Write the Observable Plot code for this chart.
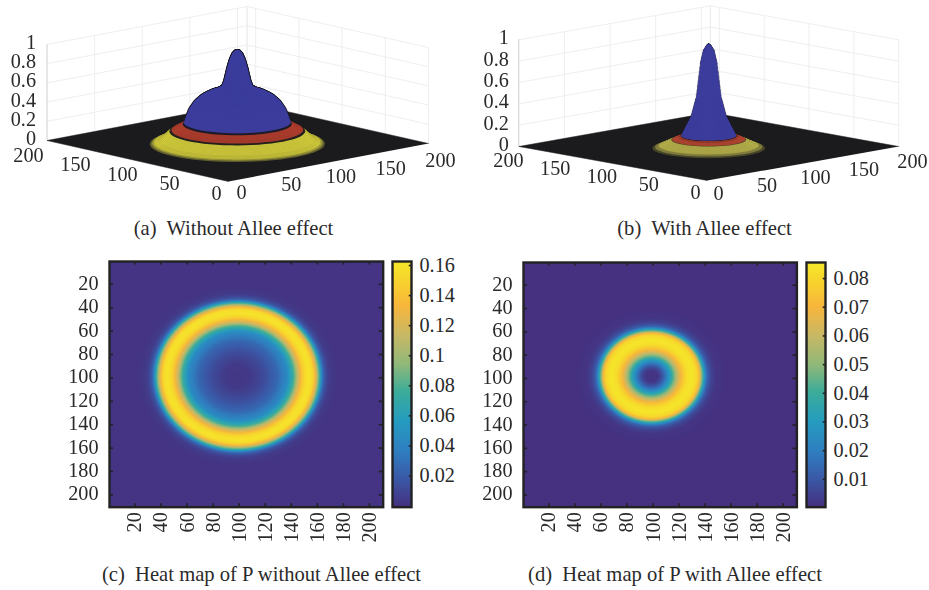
<!DOCTYPE html>
<html>
<head>
<meta charset="utf-8">
<script src="https://cdn.jsdelivr.net/npm/d3@7"></script>
<script src="https://cdn.jsdelivr.net/npm/@observablehq/plot@0.6"></script>
<style>
  html, body { margin: 0; background: #fff; }
  #page { position: relative; width: 929px; height: 590px; overflow: hidden; background: #fff; font-family: "Liberation Serif", serif; color: #2a2a2a; }
  #page svg { position: absolute; max-width: none; background: transparent; overflow: visible; }
  .cap { position: absolute; font-size: 20.6px; white-space: pre; transform: translateX(-50%); line-height: 1; }
</style>
</head>
<body>
<div id="page"></div>
<script>
// ---------- values ----------
const gridTicks3d = [50, 100, 150, 200];
const floorTicks = [0, 50, 100, 150, 200];
const heightTicks = [0, 0.2, 0.4, 0.6, 0.8, 1];
const heatTicks = [20, 40, 60, 80, 100, 120, 140, 160, 180, 200];

// surface height against distance from the centre
const surfaceRadiiA = [0, 2, 4, 6, 8, 10.5, 12, 16, 22, 29, 34, 38, 41, 42, 47, 52, 60, 68];
const surfaceValuesA = [0.98, 0.97, 0.94, 0.88, 0.79, 0.65, 0.6, 0.565, 0.54, 0.49, 0.43, 0.35, 0.25, 0.21, 0.17, 0.14, 0.045, 0];
const surfaceRadiiB = [0, 2, 4.5, 6.8, 10, 14, 21.5, 29, 36, 44];
const surfaceValuesB = [0.98, 0.96, 0.91, 0.79, 0.47, 0.29, 0.115, 0.08, 0.04, 0];
const ringNames = ["cap", "seamIn", "ring", "seamOut", "skirt", "fade", "edge"];
const ringEdgesA = [42, 42.8, 52, 53.2, 65, 66.5, 68];
const ringEdgesB = [21.5, 22, 29, 29.8, 39.5, 42, 44];
const ringColorsA = ["#3b3c9c", "#1d1b28", "#b8402f", "#26231e", "#d6d03c", "#a8a43a", "#6a6830"];
const ringColorsB = ["#3c3c9c", "#3a2030", "#b84834", "#5a4a28", "#b9b34c", "#8a8640", "#4b4a2c"];

// heat map value against distance from the centre
const heatRadiiC = [0, 10, 20, 30, 38, 43, 46, 47, 49, 51, 54, 57, 59, 61, 63, 65, 67, 70, 74, 80, 150];
const heatValuesC = [0.002, 0.004, 0.012, 0.025, 0.045, 0.08, 0.115, 0.122, 0.14, 0.152, 0.16, 0.155, 0.135, 0.105, 0.065, 0.03, 0.014, 0.005, 0.002, 0.001, 0.001];
const heatRadiiD = [0, 5, 8, 11, 14, 17, 20, 23, 27, 31, 35, 37, 39, 41, 43, 46, 50, 60, 150];
const heatValuesD = [0.001, 0.002, 0.008, 0.018, 0.03, 0.045, 0.06, 0.072, 0.082, 0.085, 0.08, 0.07, 0.045, 0.025, 0.012, 0.005, 0.0015, 0.0005, 0.0005];
const barTicksC = [0.02, 0.04, 0.06, 0.08, 0.1, 0.12, 0.14, 0.16];
const barTicksD = [0.01, 0.02, 0.03, 0.04, 0.05, 0.06, 0.07, 0.08];
const barDomainC = [-0.0008, 0.1627];
const barDomainD = [0.0003, 0.0856];

const rampStops = [0, 0.12, 0.23, 0.35, 0.47, 0.58, 0.7, 0.82, 0.93, 1];
const rampColors = ["#45307f", "#3a5aa8", "#2f7fc0", "#259cc0", "#3cac9a", "#8fb87a", "#c8b866", "#f7b63c", "#f7d62c", "#f5e82a"];

// ---------- page layout ----------
const page = document.getElementById("page");
const INK = "#2a2a2a";
const FONT = { fontFamily: "'Liberation Serif', serif", fontSize: "20.2px", background: "transparent", color: INK };
function place(svg, left, top) { svg.style.left = left + "px"; svg.style.top = top + "px"; page.appendChild(svg); }
function caption(text, cx, y) {
  const d = document.createElement("div");
  d.className = "cap"; d.textContent = text; d.style.left = cx + "px"; d.style.top = y + "px";
  page.appendChild(d);
}

// ---------- 3D panels ----------
const AXIS_MAX = 210;
const CENTRE = 100;
function surfacePanel(o) {
  const du = [(o.L[0] - o.F[0]) / AXIS_MAX, (o.L[1] - o.F[1]) / AXIS_MAX];
  const dv = [(o.R[0] - o.F[0]) / AXIS_MAX, (o.R[1] - o.F[1]) / AXIS_MAX];
  const px = (u, v) => o.F[0] + u * du[0] + v * dv[0];
  const py = (u, v, z = 0) => o.F[1] + u * du[1] + v * dv[1] - z * o.zUnit;
  const height = d3.scaleLinear().domain(o.radii).range(o.values).clamp(true);
  const maxR = o.edges[o.edges.length - 1];

  // one closed contour per radius, painted from the rim inwards
  const contour = [];
  const angles = d3.range(0, 360, 6).map(a => a * Math.PI / 180);
  for (let r = maxR; r > 0; r -= (r < o.fineBelow ? 0.12 : o.radialStep)) {
    const idx = o.edges.findIndex(e => r <= e);
    const band = ringNames[idx];
    for (const a of angles) {
      contour.push({ r, band, u: CENTRE + r * Math.cos(a), v: CENTRE + r * Math.sin(a), z: height(r) });
    }
  }
  const outer = contour.filter(d => d.band !== ringNames[0]);
  const inner = contour.filter(d => d.band === ringNames[0]);
  const X = d => px(d.u, d.v), Y = d => py(d.u, d.v, d.z);

  const segs = [];
  for (const z of heightTicks.slice(1)) {
    segs.push([AXIS_MAX, 0, z, AXIS_MAX, AXIS_MAX, z], [AXIS_MAX, AXIS_MAX, z, 0, AXIS_MAX, z]);
  }
  for (const t of gridTicks3d.concat([AXIS_MAX])) {
    segs.push([AXIS_MAX, t, 0, AXIS_MAX, t, 1], [t, AXIS_MAX, 0, t, AXIS_MAX, 1]);
  }
  segs.push([0, AXIS_MAX, 0, 0, AXIS_MAX, 1]);
  const floor = [[0, 0], [AXIS_MAX, 0], [AXIS_MAX, AXIS_MAX], [0, AXIS_MAX]];
  const lerp = (a, b, t) => a + (b - a) * t / 200;

  const svg = Plot.plot({
    width: o.w, height: o.h, margin: 0,
    style: { ...FONT, filter: "blur(0.4px)" },
    x: { axis: null, domain: [o.left, o.left + o.w], range: [0, o.w] },
    y: { axis: null, domain: [0, o.h], range: [0, o.h] },
    color: { domain: ringNames, range: o.colors },
    marks: [
      Plot.link(segs, { x1: s => px(s[0], s[1]), y1: s => py(s[0], s[1], s[2]), x2: s => px(s[3], s[4]), y2: s => py(s[3], s[4], s[5]), stroke: "#ececec", strokeWidth: 0.9 }),
      Plot.ruleX([0], { x: () => px(AXIS_MAX, 0), y1: () => py(AXIS_MAX, 0, 0), y2: () => py(AXIS_MAX, 0, 1), stroke: "#cfcfcf", strokeWidth: 1 }),
      Plot.line(floor, { x: c => px(c[0], c[1]), y: c => py(c[0], c[1]), fill: "#1b1b1e", stroke: "#1b1b1e", strokeWidth: 0.5 }),
      Plot.line(inner, { z: "r", x: X, y: Y, fill: "none", stroke: "#17171f", strokeWidth: o.halo, curve: "linear-closed" }),
      Plot.line(outer, { z: "r", x: X, y: Y, fill: "band", stroke: "#17171f", strokeWidth: o.meshWidth, strokeOpacity: o.meshOpacity, curve: "linear-closed" }),
      Plot.line(inner, { z: "r", x: X, y: Y, fill: "band", stroke: "none", curve: "linear-closed" }),
      Plot.text(heightTicks, { x: () => px(AXIS_MAX, 0), y: z => py(AXIS_MAX, 0, z), text: z => String(z), textAnchor: "end", dx: -o.zGap, dy: -2, fill: INK }),
      Plot.text(floorTicks, { x: t => lerp(o.leftLabels[0][0], o.leftLabels[1][0], t), y: t => lerp(o.leftLabels[0][1], o.leftLabels[1][1], t), text: t => String(t), fill: INK }),
      Plot.text(floorTicks, { x: t => lerp(o.rightLabels[0][0], o.rightLabels[1][0], t), y: t => lerp(o.rightLabels[0][1], o.rightLabels[1][1], t), text: t => String(t), fill: INK })
    ]
  });
  place(svg, o.left, 0);
}

surfacePanel({
  left: 0, w: 465, h: 210, zUnit: 96, zGap: 11, radialStep: 0.8, fineBelow: 14, meshWidth: 0.3, meshOpacity: 0.35, halo: 1.8,
  L: [46.5, 140], F: [228, 181], R: [428, 143],
  leftLabels: [[216, 193], [28, 155]], rightLabels: [[241, 192], [440, 160]],
  radii: surfaceRadiiA, values: surfaceValuesA, edges: ringEdgesA, colors: ringColorsA
});
surfacePanel({
  left: 465, w: 464, h: 210, zUnit: 106.7, zGap: 10, radialStep: 0.7, fineBelow: 24, meshWidth: 0.2, meshOpacity: 0.35, halo: 0.5,
  L: [518.3, 146], F: [706.7, 180], R: [898.3, 146],
  leftLabels: [[695, 192], [508, 160]], rightLabels: [[718, 193], [912, 161]],
  radii: surfaceRadiiB, values: surfaceValuesB, edges: ringEdgesB, colors: ringColorsB
});

// ---------- heat maps ----------
const HEAT_SIZE = 210;
const HEAT_MIN = 0.5, HEAT_MAX = 210.5;
function heatPanel(o) {
  const value = d3.scaleLinear().domain(o.radii).range(o.values).clamp(true);
  const grid = [];
  for (let j = 1; j <= HEAT_SIZE; j++) for (let i = 1; i <= HEAT_SIZE; i++) {
    grid.push(value(Math.hypot(i - o.cx, j - o.cy)));
  }
  const colorScale = {
    type: "linear",
    domain: rampStops.map(s => o.barDomain[0] + s * (o.barDomain[1] - o.barDomain[0])),
    range: rampColors
  };
  const mL = 60, mT = 11, mB = 60, mR = 3;
  const map = Plot.plot({
    width: mL + o.boxW + mR, height: mT + o.boxH + mB,
    marginLeft: mL, marginTop: mT, marginBottom: mB, marginRight: mR,
    style: { ...FONT, filter: "blur(0.3px)" },
    x: { domain: [HEAT_MIN, HEAT_MAX] },
    y: { domain: [HEAT_MIN, HEAT_MAX], reverse: true },
    color: colorScale,
    marks: [
      Plot.raster(grid, { width: HEAT_SIZE, height: HEAT_SIZE, x1: HEAT_MIN, x2: HEAT_MAX, y1: HEAT_MIN, y2: HEAT_MAX, fill: d => d }),
      Plot.ruleX(heatTicks, { y1: HEAT_MIN, y2: HEAT_MIN + 3, stroke: "#222", strokeWidth: 1.6 }),
      Plot.ruleX(heatTicks, { y1: HEAT_MAX - 3, y2: HEAT_MAX, stroke: "#222", strokeWidth: 1.6 }),
      Plot.ruleY(heatTicks, { x1: HEAT_MIN, x2: HEAT_MIN + 3, stroke: "#222", strokeWidth: 1.6 }),
      Plot.ruleY(heatTicks, { x1: HEAT_MAX - 3, x2: HEAT_MAX, stroke: "#222", strokeWidth: 1.6 }),
      Plot.axisX(heatTicks, { anchor: "bottom", label: null, tickSize: 0, tickPadding: 5, tickRotate: -90, fill: INK }),
      Plot.axisY(heatTicks, { anchor: "left", label: null, tickSize: 0, tickPadding: 11, dy: -1, fill: INK }),
      Plot.frame({ stroke: "#222", strokeWidth: 2.4 })
    ]
  });
  place(map, o.boxX - mL, o.boxY - mT);

  const bandN = 256;
  const ramp = d3.range(bandN).map(i => o.barDomain[0] + (i + 0.5) / bandN * (o.barDomain[1] - o.barDomain[0]));
  const bar = Plot.plot({
    width: 3 + o.barW + 52, height: o.boxH + 24,
    marginLeft: 3, marginRight: 52, marginTop: 12, marginBottom: 12,
    style: FONT,
    x: { axis: null, domain: [0, 1] },
    y: { domain: o.barDomain },
    color: colorScale,
    marks: [
      Plot.raster(ramp, { width: 1, height: bandN, x1: 0, x2: 1, y1: o.barDomain[0], y2: o.barDomain[1], fill: d => d }),
      Plot.ruleY(o.barTicks, { x1: 0.88, x2: 1, stroke: "#222", strokeWidth: 1.6 }),
      Plot.axisY(o.barTicks, { anchor: "right", label: null, tickSize: 0, tickPadding: 8, tickFormat: d => String(d), fill: INK }),
      Plot.frame({ stroke: "#222", strokeWidth: 2.4 })
    ]
  });
  place(bar, o.barX - 3, o.boxY - 12);
}

heatPanel({
  boxX: 109, boxY: 261, boxW: 273.7, boxH: 245.7, cx: 99, cy: 98.5,
  radii: heatRadiiC, values: heatValuesC,
  barX: 392, barW: 19, barDomain: barDomainC, barTicks: barTicksC
});
heatPanel({
  boxX: 523.3, boxY: 262, boxW: 273.4, boxH: 244.7, cx: 98.8, cy: 98,
  radii: heatRadiiD, values: heatValuesD,
  barX: 806, barW: 19, barDomain: barDomainD, barTicks: barTicksD
});

// ---------- captions ----------
caption("(a)  Without Allee effect", 233.5, 218);
caption("(b)  With Allee effect", 704.5, 218);
caption("(c)  Heat map of P without Allee effect", 261.5, 564);
caption("(d)  Heat map of P with Allee effect", 675, 564);
</script>
</body>
</html>
